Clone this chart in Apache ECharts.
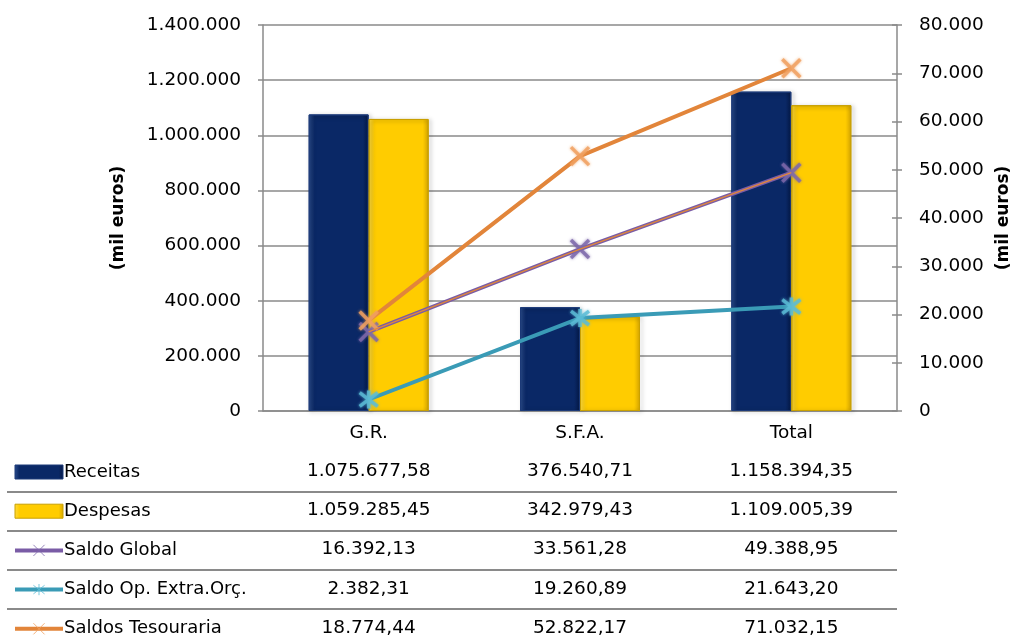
<!DOCTYPE html>
<html>
<head>
<meta charset="utf-8">
<script src="https://cdn.jsdelivr.net/npm/echarts@6/dist/echarts.min.js"></script>
<style>
  html, body { margin: 0; padding: 0; background: #fff; }
  #chart { width: 1011px; height: 639px; }
</style>
</head>
<body>
<div id="chart"></div>
<script>
// Categories and values (mil euros)
const categories = ['G.R.', 'S.F.A.', 'Total'];
const receitas = [1075677.58, 376540.71, 1158394.35];
const despesas = [1059285.45, 342979.43, 1109005.39];
const saldoGlobal = [16392.13, 33561.28, 49388.95];
const saldoExtraOrc = [2382.31, 19260.89, 21643.20];
const saldosTesouraria = [18774.44, 52822.17, 71032.15];

const seriesNames = ['Receitas', 'Despesas', 'Saldo Global', 'Saldo Op. Extra.Orç.', 'Saldos Tesouraria'];
const tableRows = [receitas, despesas, saldoGlobal, saldoExtraOrc, saldosTesouraria];

const FONT = 'DejaVu Sans';
const GRID_COLOR = '#8a8a8a';

// Portuguese number formatting: 1.234.567,89
function fmtThousands(n) {
  return String(n).replace(/\B(?=(\d{3})+(?!\d))/g, '.');
}
function fmtValue(v) {
  const parts = v.toFixed(2).split('.');
  return fmtThousands(parts[0]) + ',' + parts[1];
}

const crossPath = 'path://M0,0L10,10M10,0L0,10';
const starPath = 'path://M0,0L10,10M10,0L0,10M5,-1.5L5,11.5';

const navyFill = new echarts.graphic.LinearGradient(0, 0, 1, 0, [
  { offset: 0, color: '#2a4c8c' },
  { offset: 0.1, color: '#0a2866' },
  { offset: 0.9, color: '#0a2866' },
  { offset: 1, color: '#061a48' }
]);
const goldFill = new echarts.graphic.LinearGradient(0, 0, 1, 0, [
  { offset: 0, color: '#ffdc40' },
  { offset: 0.1, color: '#ffcc00' },
  { offset: 0.9, color: '#ffcc00' },
  { offset: 1, color: '#d8a800' }
]);

function lineSeries(name, data, lineColor, markColor, symbol) {
  return {
    name: name,
    type: 'line',
    yAxisIndex: 1,
    data: data,
    z: 5,
    symbol: symbol,
    symbolSize: 18,
    lineStyle: { color: lineColor, width: 4 },
    itemStyle: {
      color: 'rgba(0,0,0,0)',
      borderColor: markColor,
      borderWidth: 3.5,
      opacity: 0.8,
      shadowColor: markColor,
      shadowBlur: 3
    },
    emphasis: { disabled: true }
  };
}

const chart = echarts.init(document.getElementById('chart'), null, { renderer: 'canvas' });

const option = {
  animation: false,
  textStyle: { fontFamily: FONT },
  grid: { left: 263, right: 114, top: 25, bottom: 228, containLabel: false, outerBoundsMode: 'none' },
  legend: {
    orient: 'vertical',
    left: 13,
    top: 462,
    height: 200,
    padding: 0,
    itemWidth: 48,
    itemHeight: 14,
    itemGap: 19.2,
    data: [
      { name: seriesNames[0], icon: 'rect' },
      { name: seriesNames[1], icon: 'rect' },
      seriesNames[2],
      seriesNames[3],
      seriesNames[4]
    ],
    selectedMode: false,
    itemStyle: { borderWidth: 1 },
    lineStyle: { width: 4 },
    textStyle: { fontFamily: FONT, fontSize: 18, color: '#000', lineHeight: 20, padding: [0, 0, 0, -4] }
  },
  xAxis: {
    type: 'category',
    data: categories,
    axisLine: { lineStyle: { color: GRID_COLOR, width: 1.5 } },
    axisTick: { show: false },
    axisLabel: { color: '#000', fontSize: 18.5, margin: 13, fontFamily: FONT }
  },
  yAxis: [
    {
      type: 'value',
      min: 0,
      max: 1400000,
      interval: 200000,
      position: 'left',
      name: '(mil euros)',
      nameLocation: 'middle',
      nameRotate: 90,
      nameGap: 136,
      nameTextStyle: { fontFamily: FONT, fontSize: 17, fontWeight: 'bold', color: '#000' },
      axisLine: { show: true, lineStyle: { color: GRID_COLOR, width: 1.5 } },
      axisTick: { show: true, length: 5, lineStyle: { color: GRID_COLOR, width: 1.5 } },
      axisLabel: { color: '#000', fontSize: 18.5, margin: 22, fontFamily: FONT, formatter: fmtThousands },
      splitLine: { show: true, lineStyle: { color: GRID_COLOR, width: 1.5 } }
    },
    {
      type: 'value',
      min: 0,
      max: 80000,
      interval: 10000,
      position: 'right',
      name: '(mil euros)',
      nameLocation: 'middle',
      nameRotate: 90,
      nameGap: 92,
      nameTextStyle: { fontFamily: FONT, fontSize: 17, fontWeight: 'bold', color: '#000' },
      axisLine: { show: true, lineStyle: { color: GRID_COLOR, width: 1.5 } },
      axisTick: { show: true, length: 5, lineStyle: { color: GRID_COLOR, width: 1.5 } },
      axisLabel: { color: '#000', fontSize: 18.5, margin: 22, fontFamily: FONT, formatter: fmtThousands },
      splitLine: { show: false }
    },
    {
      // inner half of the crossing ticks on the right axis
      type: 'value',
      min: 0,
      max: 80000,
      interval: 10000,
      position: 'right',
      axisLine: { show: false },
      axisTick: { show: true, inside: true, length: 5, lineStyle: { color: GRID_COLOR, width: 1.5 } },
      axisLabel: { show: false },
      splitLine: { show: false }
    }
  ],
  series: [
    {
      name: 'Receitas',
      type: 'bar',
      data: receitas,
      barWidth: 60,
      barGap: '0%',
      itemStyle: {
        color: navyFill,
        borderColor: '#1c3a78',
        borderWidth: 1,
        shadowColor: 'rgba(0,0,0,0.35)',
        shadowBlur: 4,
        shadowOffsetX: 2,
        shadowOffsetY: 1
      },
      emphasis: { disabled: true }
    },
    {
      name: 'Despesas',
      type: 'bar',
      data: despesas,
      barWidth: 60,
      barGap: '0%',
      itemStyle: {
        color: goldFill,
        borderColor: '#c9a000',
        borderWidth: 1,
        shadowColor: 'rgba(0,0,0,0.35)',
        shadowBlur: 4,
        shadowOffsetX: 2,
        shadowOffsetY: 1
      },
      emphasis: { disabled: true }
    },
    lineSeries('Saldo Global', saldoGlobal, '#7a5ca6', '#7d68aa', crossPath),
    {
      // thin orange stripe running inside the Saldo Global line
      name: 'Saldo Global stripe',
      type: 'line',
      yAxisIndex: 1,
      data: saldoGlobal,
      z: 6,
      symbol: 'none',
      silent: true,
      lineStyle: { color: '#e0883a', width: 1.3 },
      emphasis: { disabled: true }
    },
    lineSeries('Saldo Op. Extra.Orç.', saldoExtraOrc, '#3a9bb6', '#5bbcd6', starPath),
    lineSeries('Saldos Tesouraria', saldosTesouraria, '#e2853a', '#f0a060', crossPath)
  ]
};

chart.setOption(option);

// Data table under the chart: values centred under each category, rows separated by rules
const rowY = [471, 510.5, 549.5, 589, 628];
const ruleY = [492, 531, 570, 609];
const graphics = [];
ruleY.forEach(function (y) {
  graphics.push({
    type: 'line',
    shape: { x1: 7, y1: y, x2: 897, y2: y },
    style: { stroke: GRID_COLOR, lineWidth: 2 },
    silent: true
  });
});
tableRows.forEach(function (row, r) {
  row.forEach(function (v, c) {
    const x = chart.convertToPixel({ xAxisIndex: 0 }, categories[c]);
    graphics.push({
      type: 'text',
      x: x,
      y: rowY[r],
      style: {
        text: fmtValue(v),
        font: '18.5px "' + FONT + '"',
        fill: '#000',
        align: 'center',
        verticalAlign: 'middle'
      },
      silent: true
    });
  });
});
chart.setOption({ graphic: graphics });
</script>
</body>
</html>
